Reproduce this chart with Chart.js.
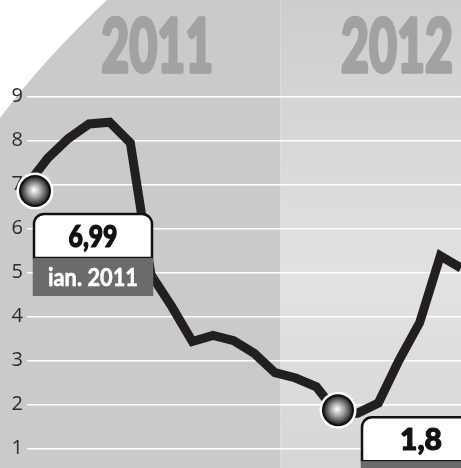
<!DOCTYPE html>
<html>
<head>
<meta charset="utf-8">
<script src="https://cdn.jsdelivr.net/npm/chart.js@4"></script>
<style>
  html, body { margin: 0; padding: 0; background: #fff; }
  #wrap { width: 461px; height: 468px; }
</style>
</head>
<body>
<div id="wrap"><canvas id="chart"></canvas></div>
<script>
const months = ['ian. 2011', 'feb. 2011', 'mar. 2011', 'apr. 2011', 'mai 2011', 'iun. 2011',
  'iul. 2011', 'aug. 2011', 'sep. 2011', 'oct. 2011', 'nov. 2011', 'dec. 2011',
  'ian. 2012', 'feb. 2012', 'mar. 2012', 'apr. 2012', 'mai 2012', 'iun. 2012',
  'iul. 2012', 'aug. 2012', 'sep. 2012', 'oct. 2012'];
const inflation = [6.99, 7.6, 8.05, 8.38, 8.42, 7.95, 4.95, 4.23, 3.43, 3.57, 3.45, 3.16,
  2.72, 2.6, 2.4, 1.8, 1.8, 2.03, 3.0, 3.86, 5.38, 5.1];
const yTicks = [1, 2, 3, 4, 5, 6, 7, 8, 9];
const years = ['2011', '2012'];
const highlighted = [0, 15];

const heavy = 'Lato, "Open Sans", sans-serif';

// where things sit, in category units / pixel offsets from the data point
const yearPos = [6.3, 17.9];
const bandSplit = 12.27;
const calloutStyle = [
  { dx: 8, dy: 6, boxDx: 7, boxDy: 29 },
  { dx: 1, dy: -3, boxDx: 25, boxDy: 4 }
];

// fill + same-colour stroke, to fake a heavier condensed face
function heavyText(ctx, text, x, y, maxW, weight) {
  ctx.lineJoin = 'round';
  ctx.lineWidth = weight;
  ctx.strokeStyle = ctx.fillStyle;
  ctx.strokeText(text, x, y, maxW);
  ctx.fillText(text, x, y, maxW);
}

function drawMarker(ctx, cx, cy) {
  ctx.beginPath();
  ctx.arc(cx, cy, 18.5, 0, Math.PI * 2);
  ctx.fillStyle = '#fff';
  ctx.fill();
  ctx.beginPath();
  ctx.arc(cx, cy, 16, 0, Math.PI * 2);
  ctx.fillStyle = '#111';
  ctx.fill();
  const g = ctx.createRadialGradient(cx - 1, cy - 1, 1, cx, cy, 14);
  g.addColorStop(0, '#f4f4f4');
  g.addColorStop(0.45, '#a0a0a0');
  g.addColorStop(0.85, '#4a4a4a');
  g.addColorStop(1, '#262626');
  ctx.beginPath();
  ctx.arc(cx, cy, 14, 0, Math.PI * 2);
  ctx.fillStyle = g;
  ctx.fill();
}

function drawCallout(ctx, x, y, value, label) {
  const w = 118, h = 44, barH = 38, r = 10;
  ctx.beginPath();
  ctx.moveTo(x, y + h);
  ctx.lineTo(x, y + r);
  ctx.arcTo(x, y, x + r, y, r);
  ctx.lineTo(x + w - r, y);
  ctx.arcTo(x + w, y, x + w, y + r, r);
  ctx.lineTo(x + w, y + h);
  ctx.closePath();
  ctx.fillStyle = '#fff';
  ctx.fill();
  ctx.lineWidth = 2.5;
  ctx.strokeStyle = '#111';
  ctx.stroke();
  ctx.fillStyle = '#6b6b6b';
  ctx.fillRect(x - 1.25, y + h, w + 2.5, barH);

  ctx.textAlign = 'center';
  ctx.textBaseline = 'middle';
  ctx.fillStyle = '#111';
  ctx.font = '900 30px ' + heavy;
  heavyText(ctx, value, x + w / 2, y + h / 2 + 1, 49, 1.2);
  ctx.fillStyle = '#fff';
  ctx.font = 'bold 25px ' + heavy;
  heavyText(ctx, label, x + w / 2, y + h / 2 + h / 2 + barH / 2 + 1, 90, 0.6);
}

const backdrop = {
  id: 'backdrop',
  beforeDraw(chart) {
    const ctx = chart.ctx;
    const xs = chart.scales.x;
    const W = chart.width, H = chart.height;
    const split = xs.getPixelForValue(bandSplit);
    ctx.save();
    ctx.fillStyle = '#cacaca';
    ctx.fillRect(0, 0, split, H);
    const g = ctx.createLinearGradient(0, 0, 0, H);
    g.addColorStop(0, '#cdcdcd');
    g.addColorStop(0.25, '#d6d6d6');
    g.addColorStop(0.6, '#e2e2e2');
    g.addColorStop(1, '#d6d6d6');
    ctx.fillStyle = g;
    ctx.fillRect(split, 0, W - split, H);
    // white cut corner
    ctx.beginPath();
    ctx.moveTo(0, 0);
    ctx.lineTo(107, 0);
    ctx.quadraticCurveTo(45, 58, 0, 118);
    ctx.closePath();
    ctx.fillStyle = '#fff';
    ctx.fill();
    // year titles
    ctx.fillStyle = '#a2a2a2';
    ctx.textAlign = 'center';
    ctx.textBaseline = 'alphabetic';
    ctx.font = '900 74px ' + heavy;
    years.forEach((t, i) => {
      heavyText(ctx, t, xs.getPixelForValue(yearPos[i]), 72, 112, 3.5);
    });
    ctx.restore();
  },
  afterDatasetsDraw(chart) {
    const ctx = chart.ctx;
    const meta = chart.getDatasetMeta(0);
    ctx.save();
    highlighted.forEach((idx, i) => {
      const pt = meta.data[idx];
      const s = calloutStyle[i];
      drawMarker(ctx, pt.x + s.dx, pt.y + s.dy);
      const txt = String(inflation[idx]).replace('.', ',');
      drawCallout(ctx, pt.x + s.boxDx, pt.y + s.boxDy, txt, months[idx]);
    });
    ctx.restore();
  }
};

new Chart(document.getElementById('chart'), {
  type: 'line',
  data: {
    labels: months,
    datasets: [{
      data: inflation,
      borderColor: '#231f20',
      borderWidth: 9,
      borderJoinStyle: 'miter',
      tension: 0,
      pointRadius: 0,
      fill: false
    }]
  },
  options: {
    responsive: true,
    maintainAspectRatio: false,
    animation: false,
    layout: { padding: 0 },
    plugins: { legend: { display: false }, tooltip: { enabled: false } },
    scales: {
      x: {
        display: false,
        offset: false
      },
      y: {
        min: 0.552,
        max: 11.2,
        afterBuildTicks(scale) {
          scale.ticks = yTicks.map(v => ({ value: v }));
        },
        afterFit(scale) {
          scale.width = 27;
          scale.paddingTop = 0;
          scale.paddingBottom = 0;
        },
        border: { display: false },
        grid: { color: '#ffffff', lineWidth: 1.5, drawTicks: false },
        ticks: {
          padding: 4,
          color: '#2b2b2b',
          font: { family: '"Open Sans", sans-serif', size: 20 }
        }
      }
    }
  },
  plugins: [backdrop]
});
</script>
</body>
</html>
